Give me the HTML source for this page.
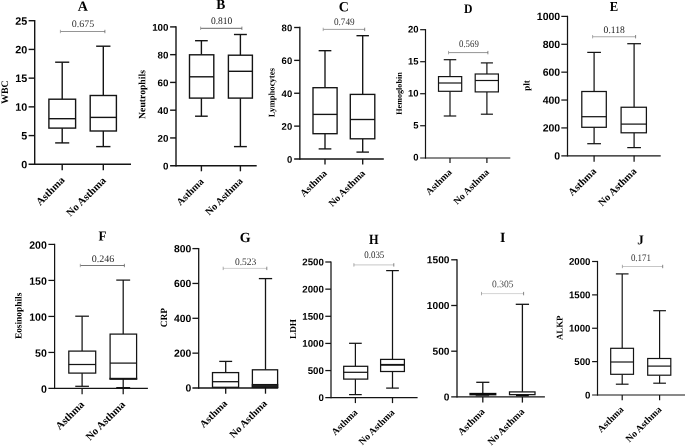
<!DOCTYPE html>
<html><head><meta charset="utf-8"><title>Figure</title>
<style>
html,body{margin:0;padding:0;background:#fff;}
svg{display:block;text-rendering:geometricPrecision;}

</style></head><body>
<svg width="685" height="448" viewBox="0 0 685 448">
<rect x="0" y="0" width="685" height="448" fill="#fff"/>
<g id="panelA">
<line x1="34.7" y1="20" x2="34.7" y2="165" stroke="#141414" stroke-width="1.4" stroke-linecap="butt"/>
<line x1="28.6" y1="164.3" x2="131" y2="164.3" stroke="#141414" stroke-width="1.4" stroke-linecap="butt"/>
<text transform="translate(27.2,168.26) rotate(0.03)" text-anchor="end" font-family="Liberation Sans, Arial, sans-serif" font-weight="bold" font-size="10.8">0</text>
<line x1="28.6" y1="135.58" x2="34.7" y2="135.58" stroke="#141414" stroke-width="1.4" stroke-linecap="butt"/>
<text transform="translate(27.2,139.54) rotate(0.03)" text-anchor="end" font-family="Liberation Sans, Arial, sans-serif" font-weight="bold" font-size="10.8">5</text>
<line x1="28.6" y1="106.86" x2="34.7" y2="106.86" stroke="#141414" stroke-width="1.4" stroke-linecap="butt"/>
<text transform="translate(27.2,110.82) rotate(0.03)" text-anchor="end" font-family="Liberation Sans, Arial, sans-serif" font-weight="bold" font-size="10.8">10</text>
<line x1="28.6" y1="78.14" x2="34.7" y2="78.14" stroke="#141414" stroke-width="1.4" stroke-linecap="butt"/>
<text transform="translate(27.2,82.1) rotate(0.03)" text-anchor="end" font-family="Liberation Sans, Arial, sans-serif" font-weight="bold" font-size="10.8">15</text>
<line x1="28.6" y1="49.42" x2="34.7" y2="49.42" stroke="#141414" stroke-width="1.4" stroke-linecap="butt"/>
<text transform="translate(27.2,53.38) rotate(0.03)" text-anchor="end" font-family="Liberation Sans, Arial, sans-serif" font-weight="bold" font-size="10.8">20</text>
<line x1="28.6" y1="20.7" x2="34.7" y2="20.7" stroke="#141414" stroke-width="1.4" stroke-linecap="butt"/>
<text transform="translate(27.2,24.66) rotate(0.03)" text-anchor="end" font-family="Liberation Sans, Arial, sans-serif" font-weight="bold" font-size="10.8">25</text>
<line x1="62.2" y1="164.3" x2="62.2" y2="170.3" stroke="#141414" stroke-width="1.4" stroke-linecap="butt"/>
<line x1="103.3" y1="164.3" x2="103.3" y2="170.3" stroke="#141414" stroke-width="1.4" stroke-linecap="butt"/>
<text transform="translate(82.7,10.7) rotate(0.03) scale(1,1)" text-anchor="middle" font-family="Liberation Serif, Times New Roman, serif" font-weight="bold" font-size="14">A</text>
<line x1="60.4" y1="31.5" x2="104.9" y2="31.5" stroke="#7a7a7a" stroke-width="0.8" stroke-linecap="butt"/>
<line x1="60.4" y1="29.8" x2="60.4" y2="33.2" stroke="#8a8a8a" stroke-width="0.7" stroke-linecap="butt"/>
<line x1="104.9" y1="29.8" x2="104.9" y2="33.2" stroke="#555" stroke-width="0.7" stroke-linecap="butt"/>
<text transform="translate(83.1,26.9) rotate(0.03) scale(1.0,1)" text-anchor="middle" font-family="Liberation Serif, Times New Roman, serif" font-size="10" fill="#333">0.675</text>
<line x1="62.2" y1="62.2" x2="62.2" y2="99.2" stroke="#141414" stroke-width="1.4" stroke-linecap="butt"/>
<line x1="55.15" y1="62.2" x2="69.25" y2="62.2" stroke="#141414" stroke-width="1.4" stroke-linecap="butt"/>
<line x1="62.2" y1="128.1" x2="62.2" y2="142.9" stroke="#141414" stroke-width="1.4" stroke-linecap="butt"/>
<line x1="55.15" y1="142.9" x2="69.25" y2="142.9" stroke="#141414" stroke-width="1.4" stroke-linecap="butt"/>
<rect x="48.9" y="99.2" width="26.7" height="28.9" fill="#fff" stroke="#141414" stroke-width="1.4"/>
<line x1="48.9" y1="118.7" x2="75.6" y2="118.7" stroke="#141414" stroke-width="1.4" stroke-linecap="butt"/>
<line x1="103.3" y1="46.2" x2="103.3" y2="95.5" stroke="#141414" stroke-width="1.4" stroke-linecap="butt"/>
<line x1="96.15" y1="46.2" x2="110.45" y2="46.2" stroke="#141414" stroke-width="1.4" stroke-linecap="butt"/>
<line x1="103.3" y1="131" x2="103.3" y2="146.6" stroke="#141414" stroke-width="1.4" stroke-linecap="butt"/>
<line x1="96.15" y1="146.6" x2="110.45" y2="146.6" stroke="#141414" stroke-width="1.4" stroke-linecap="butt"/>
<rect x="90.2" y="95.5" width="26.2" height="35.5" fill="#fff" stroke="#141414" stroke-width="1.4"/>
<line x1="90.2" y1="117.4" x2="116.4" y2="117.4" stroke="#141414" stroke-width="1.4" stroke-linecap="butt"/>
<text transform="translate(65.4,180.73) rotate(-45)" text-anchor="end" font-family="Liberation Serif, Times New Roman, serif" font-weight="bold" font-size="10.700000000000001">Asthma</text>
<text transform="translate(106.5,181.13) rotate(-45)" text-anchor="end" font-family="Liberation Serif, Times New Roman, serif" font-weight="bold" font-size="10.700000000000001">No Asthma</text>
<text transform="translate(7.9,92.1) rotate(-89.97)" text-anchor="middle" font-family="Liberation Serif, Times New Roman, serif" font-weight="bold" font-size="9.9">WBC</text>
</g>
<g id="panelB">
<line x1="176" y1="26.2" x2="176" y2="166.4" stroke="#141414" stroke-width="1.4" stroke-linecap="butt"/>
<line x1="170.1" y1="165.7" x2="256.7" y2="165.7" stroke="#141414" stroke-width="1.4" stroke-linecap="butt"/>
<text transform="translate(168.5,169.51) rotate(0.03)" text-anchor="end" font-family="Liberation Sans, Arial, sans-serif" font-weight="bold" font-size="9.8">0</text>
<line x1="170.1" y1="137.94" x2="176" y2="137.94" stroke="#141414" stroke-width="1.4" stroke-linecap="butt"/>
<text transform="translate(168.5,141.75) rotate(0.03)" text-anchor="end" font-family="Liberation Sans, Arial, sans-serif" font-weight="bold" font-size="9.8">20</text>
<line x1="170.1" y1="110.18" x2="176" y2="110.18" stroke="#141414" stroke-width="1.4" stroke-linecap="butt"/>
<text transform="translate(168.5,113.99) rotate(0.03)" text-anchor="end" font-family="Liberation Sans, Arial, sans-serif" font-weight="bold" font-size="9.8">40</text>
<line x1="170.1" y1="82.42" x2="176" y2="82.42" stroke="#141414" stroke-width="1.4" stroke-linecap="butt"/>
<text transform="translate(168.5,86.23) rotate(0.03)" text-anchor="end" font-family="Liberation Sans, Arial, sans-serif" font-weight="bold" font-size="9.8">60</text>
<line x1="170.1" y1="54.66" x2="176" y2="54.66" stroke="#141414" stroke-width="1.4" stroke-linecap="butt"/>
<text transform="translate(168.5,58.47) rotate(0.03)" text-anchor="end" font-family="Liberation Sans, Arial, sans-serif" font-weight="bold" font-size="9.8">80</text>
<line x1="170.1" y1="26.9" x2="176" y2="26.9" stroke="#141414" stroke-width="1.4" stroke-linecap="butt"/>
<text transform="translate(168.5,30.71) rotate(0.03)" text-anchor="end" font-family="Liberation Sans, Arial, sans-serif" font-weight="bold" font-size="9.8">100</text>
<line x1="201.4" y1="165.7" x2="201.4" y2="171.3" stroke="#141414" stroke-width="1.4" stroke-linecap="butt"/>
<line x1="240.4" y1="165.7" x2="240.4" y2="171.3" stroke="#141414" stroke-width="1.4" stroke-linecap="butt"/>
<text transform="translate(220.9,8.95) rotate(0.03) scale(0.97,1)" text-anchor="middle" font-family="Liberation Serif, Times New Roman, serif" font-weight="bold" font-size="14">B</text>
<line x1="200.6" y1="28.3" x2="241.9" y2="28.3" stroke="#555" stroke-width="0.9" stroke-linecap="butt"/>
<line x1="200.6" y1="26.6" x2="200.6" y2="30" stroke="#8a8a8a" stroke-width="0.7" stroke-linecap="butt"/>
<line x1="241.9" y1="26.6" x2="241.9" y2="30" stroke="#555" stroke-width="0.7" stroke-linecap="butt"/>
<text transform="translate(221.6,24.1) rotate(0.03) scale(0.95,1)" text-anchor="middle" font-family="Liberation Serif, Times New Roman, serif" font-size="10" fill="#222">0.810</text>
<line x1="201.4" y1="40.7" x2="201.4" y2="54.8" stroke="#141414" stroke-width="1.4" stroke-linecap="butt"/>
<line x1="195.05" y1="40.7" x2="207.75" y2="40.7" stroke="#141414" stroke-width="1.4" stroke-linecap="butt"/>
<line x1="201.4" y1="98.1" x2="201.4" y2="116.2" stroke="#141414" stroke-width="1.4" stroke-linecap="butt"/>
<line x1="195.05" y1="116.2" x2="207.75" y2="116.2" stroke="#141414" stroke-width="1.4" stroke-linecap="butt"/>
<rect x="189.5" y="54.8" width="24.3" height="43.3" fill="#fff" stroke="#141414" stroke-width="1.4"/>
<line x1="189.5" y1="76.8" x2="213.8" y2="76.8" stroke="#141414" stroke-width="1.4" stroke-linecap="butt"/>
<line x1="240.4" y1="34.5" x2="240.4" y2="55.2" stroke="#141414" stroke-width="1.4" stroke-linecap="butt"/>
<line x1="233.95" y1="34.5" x2="246.85" y2="34.5" stroke="#141414" stroke-width="1.4" stroke-linecap="butt"/>
<line x1="240.4" y1="98.1" x2="240.4" y2="146.6" stroke="#141414" stroke-width="1.4" stroke-linecap="butt"/>
<line x1="233.95" y1="146.6" x2="246.85" y2="146.6" stroke="#141414" stroke-width="1.4" stroke-linecap="butt"/>
<rect x="228.4" y="55.2" width="24" height="42.9" fill="#fff" stroke="#141414" stroke-width="1.4"/>
<line x1="228.4" y1="71.3" x2="252.4" y2="71.3" stroke="#141414" stroke-width="1.4" stroke-linecap="butt"/>
<text transform="translate(204.4,182.15) rotate(-45)" text-anchor="end" font-family="Liberation Serif, Times New Roman, serif" font-weight="bold" font-size="10.165000000000001">Asthma</text>
<text transform="translate(243.4,181.75) rotate(-45)" text-anchor="end" font-family="Liberation Serif, Times New Roman, serif" font-weight="bold" font-size="10.165000000000001">No Asthma</text>
<text transform="translate(145.3,94.5) rotate(-89.97)" text-anchor="middle" font-family="Liberation Serif, Times New Roman, serif" font-weight="bold" font-size="9.7">Neutrophils</text>
</g>
<g id="panelC">
<line x1="299.85" y1="26.82" x2="299.85" y2="159.68" stroke="#141414" stroke-width="1.35" stroke-linecap="butt"/>
<line x1="294.15" y1="159" x2="383.8" y2="159" stroke="#141414" stroke-width="1.35" stroke-linecap="butt"/>
<text transform="translate(292.2,162.71) rotate(0.03)" text-anchor="end" font-family="Liberation Sans, Arial, sans-serif" font-weight="bold" font-size="9.5">0</text>
<line x1="294.15" y1="126.12" x2="299.85" y2="126.12" stroke="#141414" stroke-width="1.35" stroke-linecap="butt"/>
<text transform="translate(292.2,129.83) rotate(0.03)" text-anchor="end" font-family="Liberation Sans, Arial, sans-serif" font-weight="bold" font-size="9.5">20</text>
<line x1="294.15" y1="93.25" x2="299.85" y2="93.25" stroke="#141414" stroke-width="1.35" stroke-linecap="butt"/>
<text transform="translate(292.2,96.96) rotate(0.03)" text-anchor="end" font-family="Liberation Sans, Arial, sans-serif" font-weight="bold" font-size="9.5">40</text>
<line x1="294.15" y1="60.38" x2="299.85" y2="60.38" stroke="#141414" stroke-width="1.35" stroke-linecap="butt"/>
<text transform="translate(292.2,64.08) rotate(0.03)" text-anchor="end" font-family="Liberation Sans, Arial, sans-serif" font-weight="bold" font-size="9.5">60</text>
<line x1="294.15" y1="27.5" x2="299.85" y2="27.5" stroke="#141414" stroke-width="1.35" stroke-linecap="butt"/>
<text transform="translate(292.2,31.21) rotate(0.03)" text-anchor="end" font-family="Liberation Sans, Arial, sans-serif" font-weight="bold" font-size="9.5">80</text>
<line x1="325" y1="159" x2="325" y2="164.5" stroke="#141414" stroke-width="1.35" stroke-linecap="butt"/>
<line x1="362.7" y1="159" x2="362.7" y2="164.5" stroke="#141414" stroke-width="1.35" stroke-linecap="butt"/>
<text transform="translate(343.8,11.15) rotate(0.03) scale(1,1)" text-anchor="middle" font-family="Liberation Serif, Times New Roman, serif" font-weight="bold" font-size="14">C</text>
<line x1="323.2" y1="29.4" x2="364.7" y2="29.4" stroke="#888" stroke-width="0.8" stroke-linecap="butt"/>
<line x1="323.2" y1="27.7" x2="323.2" y2="31.1" stroke="#8a8a8a" stroke-width="0.7" stroke-linecap="butt"/>
<line x1="364.7" y1="27.7" x2="364.7" y2="31.1" stroke="#555" stroke-width="0.7" stroke-linecap="butt"/>
<text transform="translate(344.3,24.9) rotate(0.03) scale(0.92,1)" text-anchor="middle" font-family="Liberation Serif, Times New Roman, serif" font-size="10" fill="#333">0.749</text>
<line x1="325" y1="50.7" x2="325" y2="87.7" stroke="#141414" stroke-width="1.35" stroke-linecap="butt"/>
<line x1="318.65" y1="50.7" x2="331.35" y2="50.7" stroke="#141414" stroke-width="1.35" stroke-linecap="butt"/>
<line x1="325" y1="133.7" x2="325" y2="148.9" stroke="#141414" stroke-width="1.35" stroke-linecap="butt"/>
<line x1="318.65" y1="148.9" x2="331.35" y2="148.9" stroke="#141414" stroke-width="1.35" stroke-linecap="butt"/>
<rect x="313" y="87.7" width="24.1" height="46" fill="#fff" stroke="#141414" stroke-width="1.35"/>
<line x1="313" y1="114.4" x2="337.1" y2="114.4" stroke="#141414" stroke-width="1.35" stroke-linecap="butt"/>
<line x1="362.7" y1="35.7" x2="362.7" y2="94.4" stroke="#141414" stroke-width="1.35" stroke-linecap="butt"/>
<line x1="356.45" y1="35.7" x2="368.95" y2="35.7" stroke="#141414" stroke-width="1.35" stroke-linecap="butt"/>
<line x1="362.7" y1="138.8" x2="362.7" y2="152.1" stroke="#141414" stroke-width="1.35" stroke-linecap="butt"/>
<line x1="356.45" y1="152.1" x2="368.95" y2="152.1" stroke="#141414" stroke-width="1.35" stroke-linecap="butt"/>
<rect x="350.3" y="94.4" width="24.5" height="44.4" fill="#fff" stroke="#141414" stroke-width="1.35"/>
<line x1="350.3" y1="119.5" x2="374.8" y2="119.5" stroke="#141414" stroke-width="1.35" stroke-linecap="butt"/>
<text transform="translate(327.5,173.88) rotate(-45)" text-anchor="end" font-family="Liberation Serif, Times New Roman, serif" font-weight="bold" font-size="9.951">Asthma</text>
<text transform="translate(365.8,173.88) rotate(-45)" text-anchor="end" font-family="Liberation Serif, Times New Roman, serif" font-weight="bold" font-size="9.951">No Asthma</text>
<text transform="translate(274.6,92.65) rotate(-89.97)" text-anchor="middle" font-family="Liberation Serif, Times New Roman, serif" font-weight="bold" font-size="8.7">Lymphocytes</text>
</g>
<g id="panelD">
<line x1="425.5" y1="29.1" x2="425.5" y2="158.6" stroke="#141414" stroke-width="1.2" stroke-linecap="butt"/>
<line x1="420.15" y1="158" x2="510.3" y2="158" stroke="#141414" stroke-width="1.2" stroke-linecap="butt"/>
<text transform="translate(418.65,160.56) rotate(0.03)" text-anchor="end" font-family="Liberation Sans, Arial, sans-serif" font-weight="bold" font-size="9.5">0</text>
<line x1="420.15" y1="125.74" x2="425.5" y2="125.74" stroke="#141414" stroke-width="1.2" stroke-linecap="butt"/>
<text transform="translate(418.65,128.54) rotate(0.03)" text-anchor="end" font-family="Liberation Sans, Arial, sans-serif" font-weight="bold" font-size="9.5">5</text>
<line x1="420.15" y1="93.72" x2="425.5" y2="93.72" stroke="#141414" stroke-width="1.2" stroke-linecap="butt"/>
<text transform="translate(418.65,96.53) rotate(0.03)" text-anchor="end" font-family="Liberation Sans, Arial, sans-serif" font-weight="bold" font-size="9.5">10</text>
<line x1="420.15" y1="61.71" x2="425.5" y2="61.71" stroke="#141414" stroke-width="1.2" stroke-linecap="butt"/>
<text transform="translate(418.65,64.52) rotate(0.03)" text-anchor="end" font-family="Liberation Sans, Arial, sans-serif" font-weight="bold" font-size="9.5">15</text>
<line x1="420.15" y1="29.7" x2="425.5" y2="29.7" stroke="#141414" stroke-width="1.2" stroke-linecap="butt"/>
<text transform="translate(418.65,32.51) rotate(0.03)" text-anchor="end" font-family="Liberation Sans, Arial, sans-serif" font-weight="bold" font-size="9.5">20</text>
<line x1="450" y1="158" x2="450" y2="163.1" stroke="#141414" stroke-width="1.2" stroke-linecap="butt"/>
<line x1="486.9" y1="158" x2="486.9" y2="163.1" stroke="#141414" stroke-width="1.2" stroke-linecap="butt"/>
<text transform="translate(468.2,12.9) rotate(0.03) scale(0.9,1)" text-anchor="middle" font-family="Liberation Serif, Times New Roman, serif" font-weight="bold" font-size="13">D</text>
<line x1="448.5" y1="52.6" x2="487.9" y2="52.6" stroke="#777" stroke-width="0.8" stroke-linecap="butt"/>
<line x1="448.5" y1="50.9" x2="448.5" y2="54.3" stroke="#8a8a8a" stroke-width="0.7" stroke-linecap="butt"/>
<line x1="487.9" y1="50.9" x2="487.9" y2="54.3" stroke="#555" stroke-width="0.7" stroke-linecap="butt"/>
<text transform="translate(468.9,47.1) rotate(0.03) scale(0.88,1)" text-anchor="middle" font-family="Liberation Serif, Times New Roman, serif" font-size="10" fill="#333">0.569</text>
<line x1="450" y1="59.7" x2="450" y2="76.6" stroke="#141414" stroke-width="1.2" stroke-linecap="butt"/>
<line x1="443.75" y1="59.7" x2="456.25" y2="59.7" stroke="#141414" stroke-width="1.2" stroke-linecap="butt"/>
<line x1="450" y1="91.3" x2="450" y2="116" stroke="#141414" stroke-width="1.2" stroke-linecap="butt"/>
<line x1="443.75" y1="116" x2="456.25" y2="116" stroke="#141414" stroke-width="1.2" stroke-linecap="butt"/>
<rect x="438.5" y="76.6" width="23.2" height="14.7" fill="#fff" stroke="#141414" stroke-width="1.2"/>
<line x1="438.5" y1="83" x2="461.7" y2="83" stroke="#141414" stroke-width="1.2" stroke-linecap="butt"/>
<line x1="486.9" y1="62.9" x2="486.9" y2="74" stroke="#141414" stroke-width="1.2" stroke-linecap="butt"/>
<line x1="480.85" y1="62.9" x2="492.95" y2="62.9" stroke="#141414" stroke-width="1.2" stroke-linecap="butt"/>
<line x1="486.9" y1="91.9" x2="486.9" y2="114.2" stroke="#141414" stroke-width="1.2" stroke-linecap="butt"/>
<line x1="480.85" y1="114.2" x2="492.95" y2="114.2" stroke="#141414" stroke-width="1.2" stroke-linecap="butt"/>
<rect x="475.2" y="74" width="23.2" height="17.9" fill="#fff" stroke="#141414" stroke-width="1.2"/>
<line x1="475.2" y1="80.5" x2="498.4" y2="80.5" stroke="#141414" stroke-width="1.2" stroke-linecap="butt"/>
<text transform="translate(452.3,172.78) rotate(-45)" text-anchor="end" font-family="Liberation Serif, Times New Roman, serif" font-weight="bold" font-size="9.63">Asthma</text>
<text transform="translate(489.7,172.78) rotate(-45)" text-anchor="end" font-family="Liberation Serif, Times New Roman, serif" font-weight="bold" font-size="9.63">No Asthma</text>
<text transform="translate(401.7,93.5) rotate(-89.97)" text-anchor="middle" font-family="Liberation Serif, Times New Roman, serif" font-weight="bold" font-size="8.15">Hemoglobin</text>
</g>
<g id="panelE">
<line x1="567.5" y1="15.77" x2="567.5" y2="156.43" stroke="#141414" stroke-width="1.25" stroke-linecap="butt"/>
<line x1="561.3" y1="155.8" x2="660.7" y2="155.8" stroke="#141414" stroke-width="1.25" stroke-linecap="butt"/>
<text transform="translate(560.2,159.45) rotate(0.03)" text-anchor="end" font-family="Liberation Sans, Arial, sans-serif" font-weight="bold" font-size="10.5">0</text>
<line x1="561.3" y1="127.92" x2="567.5" y2="127.92" stroke="#141414" stroke-width="1.25" stroke-linecap="butt"/>
<text transform="translate(560.2,131.57) rotate(0.03)" text-anchor="end" font-family="Liberation Sans, Arial, sans-serif" font-weight="bold" font-size="10.5">200</text>
<line x1="561.3" y1="100.04" x2="567.5" y2="100.04" stroke="#141414" stroke-width="1.25" stroke-linecap="butt"/>
<text transform="translate(560.2,103.69) rotate(0.03)" text-anchor="end" font-family="Liberation Sans, Arial, sans-serif" font-weight="bold" font-size="10.5">400</text>
<line x1="561.3" y1="72.16" x2="567.5" y2="72.16" stroke="#141414" stroke-width="1.25" stroke-linecap="butt"/>
<text transform="translate(560.2,75.81) rotate(0.03)" text-anchor="end" font-family="Liberation Sans, Arial, sans-serif" font-weight="bold" font-size="10.5">600</text>
<line x1="561.3" y1="44.28" x2="567.5" y2="44.28" stroke="#141414" stroke-width="1.25" stroke-linecap="butt"/>
<text transform="translate(560.2,47.93) rotate(0.03)" text-anchor="end" font-family="Liberation Sans, Arial, sans-serif" font-weight="bold" font-size="10.5">800</text>
<line x1="561.3" y1="16.4" x2="567.5" y2="16.4" stroke="#141414" stroke-width="1.25" stroke-linecap="butt"/>
<text transform="translate(560.2,20.05) rotate(0.03)" text-anchor="end" font-family="Liberation Sans, Arial, sans-serif" font-weight="bold" font-size="10.5">1000</text>
<line x1="594.1" y1="155.8" x2="594.1" y2="161.8" stroke="#141414" stroke-width="1.25" stroke-linecap="butt"/>
<line x1="634.1" y1="155.8" x2="634.1" y2="161.8" stroke="#141414" stroke-width="1.25" stroke-linecap="butt"/>
<text transform="translate(613.95,10.95) rotate(0.03) scale(0.93,1)" text-anchor="middle" font-family="Liberation Serif, Times New Roman, serif" font-weight="bold" font-size="13.6">E</text>
<line x1="592.6" y1="36.7" x2="635.6" y2="36.7" stroke="#a8a8a8" stroke-width="1.1" stroke-linecap="butt"/>
<line x1="592.6" y1="35" x2="592.6" y2="38.4" stroke="#8a8a8a" stroke-width="0.7" stroke-linecap="butt"/>
<line x1="635.6" y1="35" x2="635.6" y2="38.4" stroke="#555" stroke-width="0.7" stroke-linecap="butt"/>
<text transform="translate(614.2,33.1) rotate(0.03) scale(0.96,1)" text-anchor="middle" font-family="Liberation Serif, Times New Roman, serif" font-size="10" fill="#222">0.118</text>
<line x1="594.1" y1="52.4" x2="594.1" y2="91.5" stroke="#141414" stroke-width="1.25" stroke-linecap="butt"/>
<line x1="587.25" y1="52.4" x2="600.95" y2="52.4" stroke="#141414" stroke-width="1.25" stroke-linecap="butt"/>
<line x1="594.1" y1="127.3" x2="594.1" y2="143.7" stroke="#141414" stroke-width="1.25" stroke-linecap="butt"/>
<line x1="587.25" y1="143.7" x2="600.95" y2="143.7" stroke="#141414" stroke-width="1.25" stroke-linecap="butt"/>
<rect x="581.8" y="91.5" width="24.5" height="35.8" fill="#fff" stroke="#141414" stroke-width="1.25"/>
<line x1="581.8" y1="116.7" x2="606.3" y2="116.7" stroke="#141414" stroke-width="1.25" stroke-linecap="butt"/>
<line x1="634.1" y1="43.7" x2="634.1" y2="107.25" stroke="#141414" stroke-width="1.25" stroke-linecap="butt"/>
<line x1="627.25" y1="43.7" x2="640.95" y2="43.7" stroke="#141414" stroke-width="1.25" stroke-linecap="butt"/>
<line x1="634.1" y1="132.8" x2="634.1" y2="147.6" stroke="#141414" stroke-width="1.25" stroke-linecap="butt"/>
<line x1="627.25" y1="147.6" x2="640.95" y2="147.6" stroke="#141414" stroke-width="1.25" stroke-linecap="butt"/>
<rect x="621.1" y="107.25" width="25.3" height="25.55" fill="#fff" stroke="#141414" stroke-width="1.25"/>
<line x1="621.1" y1="124.1" x2="646.4" y2="124.1" stroke="#141414" stroke-width="1.25" stroke-linecap="butt"/>
<text transform="translate(596.8,171.93) rotate(-45)" text-anchor="end" font-family="Liberation Serif, Times New Roman, serif" font-weight="bold" font-size="10.379">Asthma</text>
<text transform="translate(637.1,171.93) rotate(-45)" text-anchor="end" font-family="Liberation Serif, Times New Roman, serif" font-weight="bold" font-size="10.379">No Asthma</text>
<text transform="translate(529.6,85.6) rotate(-89.97)" text-anchor="middle" font-family="Liberation Serif, Times New Roman, serif" font-weight="bold" font-size="9.0">plt</text>
</g>
<g id="panelF">
<line x1="54.6" y1="243.78" x2="54.6" y2="389.07" stroke="#141414" stroke-width="1.25" stroke-linecap="butt"/>
<line x1="48.4" y1="388.45" x2="147.9" y2="388.45" stroke="#141414" stroke-width="1.25" stroke-linecap="butt"/>
<text transform="translate(46.9,392.84) rotate(0.03)" text-anchor="end" font-family="Liberation Sans, Arial, sans-serif" font-weight="bold" font-size="10.6">0</text>
<line x1="48.4" y1="352.44" x2="54.6" y2="352.44" stroke="#141414" stroke-width="1.25" stroke-linecap="butt"/>
<text transform="translate(46.9,356.83) rotate(0.03)" text-anchor="end" font-family="Liberation Sans, Arial, sans-serif" font-weight="bold" font-size="10.6">50</text>
<line x1="48.4" y1="316.43" x2="54.6" y2="316.43" stroke="#141414" stroke-width="1.25" stroke-linecap="butt"/>
<text transform="translate(46.9,320.81) rotate(0.03)" text-anchor="end" font-family="Liberation Sans, Arial, sans-serif" font-weight="bold" font-size="10.6">100</text>
<line x1="48.4" y1="280.41" x2="54.6" y2="280.41" stroke="#141414" stroke-width="1.25" stroke-linecap="butt"/>
<text transform="translate(46.9,284.8) rotate(0.03)" text-anchor="end" font-family="Liberation Sans, Arial, sans-serif" font-weight="bold" font-size="10.6">150</text>
<line x1="48.4" y1="244.4" x2="54.6" y2="244.4" stroke="#141414" stroke-width="1.25" stroke-linecap="butt"/>
<text transform="translate(46.9,248.79) rotate(0.03)" text-anchor="end" font-family="Liberation Sans, Arial, sans-serif" font-weight="bold" font-size="10.6">200</text>
<line x1="82.1" y1="388.45" x2="82.1" y2="394.3" stroke="#141414" stroke-width="1.25" stroke-linecap="butt"/>
<line x1="123.2" y1="388.45" x2="123.2" y2="394.3" stroke="#141414" stroke-width="1.25" stroke-linecap="butt"/>
<text transform="translate(102.6,240.4) rotate(0.03) scale(0.95,1)" text-anchor="middle" font-family="Liberation Serif, Times New Roman, serif" font-weight="bold" font-size="13.8">F</text>
<line x1="80.3" y1="265.5" x2="124.4" y2="265.5" stroke="#666" stroke-width="0.9" stroke-linecap="butt"/>
<line x1="80.3" y1="263.8" x2="80.3" y2="267.2" stroke="#8a8a8a" stroke-width="0.7" stroke-linecap="butt"/>
<line x1="124.4" y1="263.8" x2="124.4" y2="267.2" stroke="#555" stroke-width="0.7" stroke-linecap="butt"/>
<text transform="translate(103.1,261.9) rotate(0.03) scale(1.0,1)" text-anchor="middle" font-family="Liberation Serif, Times New Roman, serif" font-size="10" fill="#2a2a2a">0.246</text>
<line x1="82.1" y1="316.2" x2="82.1" y2="351.1" stroke="#141414" stroke-width="1.25" stroke-linecap="butt"/>
<line x1="75.25" y1="316.2" x2="88.95" y2="316.2" stroke="#141414" stroke-width="1.25" stroke-linecap="butt"/>
<line x1="82.1" y1="373.1" x2="82.1" y2="386.3" stroke="#141414" stroke-width="1.25" stroke-linecap="butt"/>
<line x1="75.25" y1="386.3" x2="88.95" y2="386.3" stroke="#141414" stroke-width="1.25" stroke-linecap="butt"/>
<rect x="68.8" y="351.1" width="26.9" height="22" fill="#fff" stroke="#141414" stroke-width="1.25"/>
<line x1="68.8" y1="364.5" x2="95.7" y2="364.5" stroke="#141414" stroke-width="1.25" stroke-linecap="butt"/>
<line x1="123.2" y1="280.1" x2="123.2" y2="334.1" stroke="#141414" stroke-width="1.25" stroke-linecap="butt"/>
<line x1="116.25" y1="280.1" x2="130.15" y2="280.1" stroke="#141414" stroke-width="1.25" stroke-linecap="butt"/>
<line x1="123.2" y1="379" x2="123.2" y2="387.6" stroke="#141414" stroke-width="1.25" stroke-linecap="butt"/>
<line x1="116.25" y1="387.6" x2="130.15" y2="387.6" stroke="#141414" stroke-width="1.25" stroke-linecap="butt"/>
<rect x="110.1" y="334.1" width="26.5" height="44.9" fill="#fff" stroke="#141414" stroke-width="1.25"/>
<line x1="109.47" y1="378.75" x2="137.22" y2="378.75" stroke="#141414" stroke-width="1.9" stroke-linecap="butt"/>
<line x1="110.1" y1="363.1" x2="136.6" y2="363.1" stroke="#141414" stroke-width="1.25" stroke-linecap="butt"/>
<text transform="translate(84.9,405.13) rotate(-45)" text-anchor="end" font-family="Liberation Serif, Times New Roman, serif" font-weight="bold" font-size="10.700000000000001">Asthma</text>
<text transform="translate(125.8,405.13) rotate(-45)" text-anchor="end" font-family="Liberation Serif, Times New Roman, serif" font-weight="bold" font-size="10.700000000000001">No Asthma</text>
<text transform="translate(21.6,315.9) rotate(-89.97)" text-anchor="middle" font-family="Liberation Serif, Times New Roman, serif" font-weight="bold" font-size="9.4">Eosinophils</text>
</g>
<g id="panelG">
<line x1="198.7" y1="247.95" x2="198.7" y2="388.65" stroke="#141414" stroke-width="1.3" stroke-linecap="butt"/>
<line x1="192.4" y1="388" x2="278.2" y2="388" stroke="#141414" stroke-width="1.3" stroke-linecap="butt"/>
<text transform="translate(191.3,391.62) rotate(0.03)" text-anchor="end" font-family="Liberation Sans, Arial, sans-serif" font-weight="bold" font-size="10.4">0</text>
<line x1="192.4" y1="353.15" x2="198.7" y2="353.15" stroke="#141414" stroke-width="1.3" stroke-linecap="butt"/>
<text transform="translate(191.3,356.77) rotate(0.03)" text-anchor="end" font-family="Liberation Sans, Arial, sans-serif" font-weight="bold" font-size="10.4">200</text>
<line x1="192.4" y1="318.3" x2="198.7" y2="318.3" stroke="#141414" stroke-width="1.3" stroke-linecap="butt"/>
<text transform="translate(191.3,321.92) rotate(0.03)" text-anchor="end" font-family="Liberation Sans, Arial, sans-serif" font-weight="bold" font-size="10.4">400</text>
<line x1="192.4" y1="283.45" x2="198.7" y2="283.45" stroke="#141414" stroke-width="1.3" stroke-linecap="butt"/>
<text transform="translate(191.3,287.07) rotate(0.03)" text-anchor="end" font-family="Liberation Sans, Arial, sans-serif" font-weight="bold" font-size="10.4">600</text>
<line x1="192.4" y1="248.6" x2="198.7" y2="248.6" stroke="#141414" stroke-width="1.3" stroke-linecap="butt"/>
<text transform="translate(191.3,252.22) rotate(0.03)" text-anchor="end" font-family="Liberation Sans, Arial, sans-serif" font-weight="bold" font-size="10.4">800</text>
<line x1="225.7" y1="388" x2="225.7" y2="393.7" stroke="#141414" stroke-width="1.3" stroke-linecap="butt"/>
<line x1="265.5" y1="388" x2="265.5" y2="393.7" stroke="#141414" stroke-width="1.3" stroke-linecap="butt"/>
<text transform="translate(245.2,242.1) rotate(0.03) scale(1,1)" text-anchor="middle" font-family="Liberation Serif, Times New Roman, serif" font-weight="bold" font-size="14">G</text>
<line x1="223.2" y1="268.4" x2="266.8" y2="268.4" stroke="#c4c4c4" stroke-width="0.8" stroke-linecap="butt"/>
<line x1="223.2" y1="266.7" x2="223.2" y2="270.1" stroke="#8a8a8a" stroke-width="0.7" stroke-linecap="butt"/>
<line x1="266.8" y1="266.7" x2="266.8" y2="270.1" stroke="#555" stroke-width="0.7" stroke-linecap="butt"/>
<text transform="translate(245.6,264.9) rotate(0.03) scale(0.95,1)" text-anchor="middle" font-family="Liberation Serif, Times New Roman, serif" font-size="10" fill="#333">0.523</text>
<line x1="225.7" y1="361.4" x2="225.7" y2="372.6" stroke="#141414" stroke-width="1.3" stroke-linecap="butt"/>
<line x1="219.25" y1="361.4" x2="232.15" y2="361.4" stroke="#141414" stroke-width="1.3" stroke-linecap="butt"/>
<rect x="212.5" y="372.6" width="26.1" height="14.7" fill="#fff" stroke="#141414" stroke-width="1.3"/>
<line x1="212.5" y1="381.7" x2="238.6" y2="381.7" stroke="#141414" stroke-width="1.3" stroke-linecap="butt"/>
<line x1="265.5" y1="278.6" x2="265.5" y2="369.8" stroke="#141414" stroke-width="1.3" stroke-linecap="butt"/>
<line x1="258.85" y1="278.6" x2="272.15" y2="278.6" stroke="#141414" stroke-width="1.3" stroke-linecap="butt"/>
<rect x="252.4" y="369.8" width="25.2" height="17.5" fill="#fff" stroke="#141414" stroke-width="1.3"/>
<rect x="252.4" y="384.6" width="25.2" height="2.7" fill="#262626" stroke="#141414" stroke-width="1.3"/>
<text transform="translate(227.9,404.17) rotate(-45)" text-anchor="end" font-family="Liberation Serif, Times New Roman, serif" font-weight="bold" font-size="10.2185">Asthma</text>
<text transform="translate(267.7,404.17) rotate(-45)" text-anchor="end" font-family="Liberation Serif, Times New Roman, serif" font-weight="bold" font-size="10.2185">No Asthma</text>
<text transform="translate(167,317.6) rotate(-89.97)" text-anchor="middle" font-family="Liberation Serif, Times New Roman, serif" font-weight="bold" font-size="9.5">CRP</text>
</g>
<g id="panelH">
<line x1="331" y1="261.38" x2="331" y2="398.32" stroke="#141414" stroke-width="1.25" stroke-linecap="butt"/>
<line x1="325.3" y1="397.7" x2="417.6" y2="397.7" stroke="#141414" stroke-width="1.25" stroke-linecap="butt"/>
<text transform="translate(323.9,401.08) rotate(0.03)" text-anchor="end" font-family="Liberation Sans, Arial, sans-serif" font-weight="bold" font-size="9.7">0</text>
<line x1="325.3" y1="370.56" x2="331" y2="370.56" stroke="#141414" stroke-width="1.25" stroke-linecap="butt"/>
<text transform="translate(323.9,373.94) rotate(0.03)" text-anchor="end" font-family="Liberation Sans, Arial, sans-serif" font-weight="bold" font-size="9.7">500</text>
<line x1="325.3" y1="343.42" x2="331" y2="343.42" stroke="#141414" stroke-width="1.25" stroke-linecap="butt"/>
<text transform="translate(323.9,346.8) rotate(0.03)" text-anchor="end" font-family="Liberation Sans, Arial, sans-serif" font-weight="bold" font-size="9.7">1000</text>
<line x1="325.3" y1="316.28" x2="331" y2="316.28" stroke="#141414" stroke-width="1.25" stroke-linecap="butt"/>
<text transform="translate(323.9,319.66) rotate(0.03)" text-anchor="end" font-family="Liberation Sans, Arial, sans-serif" font-weight="bold" font-size="9.7">1500</text>
<line x1="325.3" y1="289.14" x2="331" y2="289.14" stroke="#141414" stroke-width="1.25" stroke-linecap="butt"/>
<text transform="translate(323.9,292.52) rotate(0.03)" text-anchor="end" font-family="Liberation Sans, Arial, sans-serif" font-weight="bold" font-size="9.7">2000</text>
<line x1="325.3" y1="262" x2="331" y2="262" stroke="#141414" stroke-width="1.25" stroke-linecap="butt"/>
<text transform="translate(323.9,265.38) rotate(0.03)" text-anchor="end" font-family="Liberation Sans, Arial, sans-serif" font-weight="bold" font-size="9.7">2500</text>
<line x1="355.4" y1="397.7" x2="355.4" y2="403.1" stroke="#141414" stroke-width="1.25" stroke-linecap="butt"/>
<line x1="392.5" y1="397.7" x2="392.5" y2="403.1" stroke="#141414" stroke-width="1.25" stroke-linecap="butt"/>
<text transform="translate(373.7,244.5) rotate(0.03) scale(0.88,1)" text-anchor="middle" font-family="Liberation Serif, Times New Roman, serif" font-weight="bold" font-size="14">H</text>
<line x1="353.9" y1="264.9" x2="393.8" y2="264.9" stroke="#d2d2d2" stroke-width="1.1" stroke-linecap="butt"/>
<line x1="353.9" y1="263.2" x2="353.9" y2="266.6" stroke="#8a8a8a" stroke-width="0.7" stroke-linecap="butt"/>
<line x1="393.8" y1="263.2" x2="393.8" y2="266.6" stroke="#555" stroke-width="0.7" stroke-linecap="butt"/>
<text transform="translate(374.3,258) rotate(0.03) scale(0.89,1)" text-anchor="middle" font-family="Liberation Serif, Times New Roman, serif" font-size="10" fill="#2a2a2a">0.035</text>
<line x1="355.4" y1="343.3" x2="355.4" y2="366.3" stroke="#141414" stroke-width="1.25" stroke-linecap="butt"/>
<line x1="349.05" y1="343.3" x2="361.75" y2="343.3" stroke="#141414" stroke-width="1.25" stroke-linecap="butt"/>
<line x1="355.4" y1="379.1" x2="355.4" y2="394.6" stroke="#141414" stroke-width="1.25" stroke-linecap="butt"/>
<line x1="349.05" y1="394.6" x2="361.75" y2="394.6" stroke="#141414" stroke-width="1.25" stroke-linecap="butt"/>
<rect x="343.7" y="366.3" width="24" height="12.8" fill="#fff" stroke="#141414" stroke-width="1.25"/>
<line x1="343.7" y1="372.3" x2="367.7" y2="372.3" stroke="#141414" stroke-width="1.25" stroke-linecap="butt"/>
<line x1="392.5" y1="270.6" x2="392.5" y2="359.4" stroke="#141414" stroke-width="1.25" stroke-linecap="butt"/>
<line x1="386.15" y1="270.6" x2="398.85" y2="270.6" stroke="#141414" stroke-width="1.25" stroke-linecap="butt"/>
<line x1="392.5" y1="371.5" x2="392.5" y2="388.1" stroke="#141414" stroke-width="1.25" stroke-linecap="butt"/>
<line x1="386.15" y1="388.1" x2="398.85" y2="388.1" stroke="#141414" stroke-width="1.25" stroke-linecap="butt"/>
<rect x="380.6" y="359.4" width="23.8" height="12.1" fill="#fff" stroke="#141414" stroke-width="1.25"/>
<line x1="380.6" y1="364.85" x2="404.4" y2="364.85" stroke="#141414" stroke-width="1.9" stroke-linecap="butt"/>
<text transform="translate(358.1,413) rotate(-45)" text-anchor="end" font-family="Liberation Serif, Times New Roman, serif" font-weight="bold" font-size="9.6835">Asthma</text>
<text transform="translate(395.1,413) rotate(-45)" text-anchor="end" font-family="Liberation Serif, Times New Roman, serif" font-weight="bold" font-size="9.6835">No Asthma</text>
<text transform="translate(296,329.05) rotate(-89.97)" text-anchor="middle" font-family="Liberation Serif, Times New Roman, serif" font-weight="bold" font-size="9.1">LDH</text>
</g>
<g id="panelI">
<line x1="457" y1="259.15" x2="457" y2="397.55" stroke="#141414" stroke-width="1.3" stroke-linecap="butt"/>
<line x1="451.2" y1="396.9" x2="544.9" y2="396.9" stroke="#141414" stroke-width="1.3" stroke-linecap="butt"/>
<text transform="translate(449.5,400.45) rotate(0.03)" text-anchor="end" font-family="Liberation Sans, Arial, sans-serif" font-weight="bold" font-size="10.2">0</text>
<line x1="451.2" y1="351.2" x2="457" y2="351.2" stroke="#141414" stroke-width="1.3" stroke-linecap="butt"/>
<text transform="translate(449.5,354.75) rotate(0.03)" text-anchor="end" font-family="Liberation Sans, Arial, sans-serif" font-weight="bold" font-size="10.2">500</text>
<line x1="451.2" y1="305.5" x2="457" y2="305.5" stroke="#141414" stroke-width="1.3" stroke-linecap="butt"/>
<text transform="translate(449.5,309.05) rotate(0.03)" text-anchor="end" font-family="Liberation Sans, Arial, sans-serif" font-weight="bold" font-size="10.2">1000</text>
<line x1="451.2" y1="259.8" x2="457" y2="259.8" stroke="#141414" stroke-width="1.3" stroke-linecap="butt"/>
<text transform="translate(449.5,263.35) rotate(0.03)" text-anchor="end" font-family="Liberation Sans, Arial, sans-serif" font-weight="bold" font-size="10.2">1500</text>
<line x1="482.8" y1="396.9" x2="482.8" y2="402.6" stroke="#141414" stroke-width="1.3" stroke-linecap="butt"/>
<line x1="522.4" y1="396.9" x2="522.4" y2="402.6" stroke="#141414" stroke-width="1.3" stroke-linecap="butt"/>
<text transform="translate(502.7,241.9) rotate(0.03) scale(1,1)" text-anchor="middle" font-family="Liberation Serif, Times New Roman, serif" font-weight="bold" font-size="14">I</text>
<line x1="481.5" y1="293.6" x2="523.6" y2="293.6" stroke="#c8c8c8" stroke-width="0.8" stroke-linecap="butt"/>
<line x1="481.5" y1="291.9" x2="481.5" y2="295.3" stroke="#8a8a8a" stroke-width="0.7" stroke-linecap="butt"/>
<line x1="523.6" y1="291.9" x2="523.6" y2="295.3" stroke="#555" stroke-width="0.7" stroke-linecap="butt"/>
<text transform="translate(502.7,287.3) rotate(0.03) scale(0.95,1)" text-anchor="middle" font-family="Liberation Serif, Times New Roman, serif" font-size="10" fill="#4a4a4a">0.305</text>
<line x1="482.8" y1="382.3" x2="482.8" y2="393.2" stroke="#141414" stroke-width="1.3" stroke-linecap="butt"/>
<line x1="476.25" y1="382.3" x2="489.35" y2="382.3" stroke="#141414" stroke-width="1.3" stroke-linecap="butt"/>
<rect x="469.4" y="392.85" width="27" height="2.55" fill="#0a0a0a"/><rect x="475.7" y="395.3" width="13.4" height="1" fill="#0a0a0a"/>
<line x1="522.4" y1="304.3" x2="522.4" y2="391.9" stroke="#141414" stroke-width="1.3" stroke-linecap="butt"/>
<line x1="515.75" y1="304.3" x2="529.05" y2="304.3" stroke="#141414" stroke-width="1.3" stroke-linecap="butt"/>
<rect x="509.5" y="391.9" width="25.5" height="2.75" fill="#fff" stroke="#141414" stroke-width="1.25"/><rect x="516" y="394.9" width="12.8" height="1.4" fill="#0a0a0a"/>
<text transform="translate(485.3,412.28) rotate(-45)" text-anchor="end" font-family="Liberation Serif, Times New Roman, serif" font-weight="bold" font-size="9.951">Asthma</text>
<text transform="translate(524.9,412.28) rotate(-45)" text-anchor="end" font-family="Liberation Serif, Times New Roman, serif" font-weight="bold" font-size="9.951">No Asthma</text>
</g>
<g id="panelJ">
<line x1="597.5" y1="260.9" x2="597.5" y2="395.6" stroke="#141414" stroke-width="1.2" stroke-linecap="butt"/>
<line x1="592.1" y1="395" x2="686" y2="395" stroke="#141414" stroke-width="1.2" stroke-linecap="butt"/>
<text transform="translate(590.5,398.38) rotate(0.03)" text-anchor="end" font-family="Liberation Sans, Arial, sans-serif" font-weight="bold" font-size="9.7">0</text>
<line x1="592.1" y1="361.62" x2="597.5" y2="361.62" stroke="#141414" stroke-width="1.2" stroke-linecap="butt"/>
<text transform="translate(590.5,365) rotate(0.03)" text-anchor="end" font-family="Liberation Sans, Arial, sans-serif" font-weight="bold" font-size="9.7">500</text>
<line x1="592.1" y1="328.25" x2="597.5" y2="328.25" stroke="#141414" stroke-width="1.2" stroke-linecap="butt"/>
<text transform="translate(590.5,331.63) rotate(0.03)" text-anchor="end" font-family="Liberation Sans, Arial, sans-serif" font-weight="bold" font-size="9.7">1000</text>
<line x1="592.1" y1="294.88" x2="597.5" y2="294.88" stroke="#141414" stroke-width="1.2" stroke-linecap="butt"/>
<text transform="translate(590.5,298.25) rotate(0.03)" text-anchor="end" font-family="Liberation Sans, Arial, sans-serif" font-weight="bold" font-size="9.7">1500</text>
<line x1="592.1" y1="261.5" x2="597.5" y2="261.5" stroke="#141414" stroke-width="1.2" stroke-linecap="butt"/>
<text transform="translate(590.5,264.88) rotate(0.03)" text-anchor="end" font-family="Liberation Sans, Arial, sans-serif" font-weight="bold" font-size="9.7">2000</text>
<line x1="622.2" y1="395" x2="622.2" y2="400.2" stroke="#141414" stroke-width="1.2" stroke-linecap="butt"/>
<line x1="659.6" y1="395" x2="659.6" y2="400.2" stroke="#141414" stroke-width="1.2" stroke-linecap="butt"/>
<text transform="translate(640.4,244.2) rotate(0.03) scale(0.97,1)" text-anchor="middle" font-family="Liberation Serif, Times New Roman, serif" font-weight="bold" font-size="13.4">J</text>
<line x1="622.4" y1="266.5" x2="662.7" y2="266.5" stroke="#b8b8b8" stroke-width="0.8" stroke-linecap="butt"/>
<line x1="622.4" y1="264.8" x2="622.4" y2="268.2" stroke="#8a8a8a" stroke-width="0.7" stroke-linecap="butt"/>
<line x1="662.7" y1="264.8" x2="662.7" y2="268.2" stroke="#555" stroke-width="0.7" stroke-linecap="butt"/>
<text transform="translate(640.9,261.4) rotate(0.03) scale(0.89,1)" text-anchor="middle" font-family="Liberation Serif, Times New Roman, serif" font-size="10" fill="#333">0.171</text>
<line x1="622.2" y1="273.9" x2="622.2" y2="348.3" stroke="#141414" stroke-width="1.2" stroke-linecap="butt"/>
<line x1="615.85" y1="273.9" x2="628.55" y2="273.9" stroke="#141414" stroke-width="1.2" stroke-linecap="butt"/>
<line x1="622.2" y1="374.3" x2="622.2" y2="384.2" stroke="#141414" stroke-width="1.2" stroke-linecap="butt"/>
<line x1="615.85" y1="384.2" x2="628.55" y2="384.2" stroke="#141414" stroke-width="1.2" stroke-linecap="butt"/>
<rect x="610.7" y="348.3" width="22.8" height="26" fill="#fff" stroke="#141414" stroke-width="1.2"/>
<line x1="610.7" y1="362" x2="633.5" y2="362" stroke="#141414" stroke-width="1.2" stroke-linecap="butt"/>
<line x1="659.6" y1="310.7" x2="659.6" y2="358.5" stroke="#141414" stroke-width="1.2" stroke-linecap="butt"/>
<line x1="653.25" y1="310.7" x2="665.95" y2="310.7" stroke="#141414" stroke-width="1.2" stroke-linecap="butt"/>
<line x1="659.6" y1="375.2" x2="659.6" y2="383.2" stroke="#141414" stroke-width="1.2" stroke-linecap="butt"/>
<line x1="653.25" y1="383.2" x2="665.95" y2="383.2" stroke="#141414" stroke-width="1.2" stroke-linecap="butt"/>
<rect x="647.7" y="358.5" width="23.1" height="16.7" fill="#fff" stroke="#141414" stroke-width="1.2"/>
<line x1="647.7" y1="366.1" x2="670.8" y2="366.1" stroke="#141414" stroke-width="1.2" stroke-linecap="butt"/>
<text transform="translate(624.2,410.11) rotate(-45)" text-anchor="end" font-family="Liberation Serif, Times New Roman, serif" font-weight="bold" font-size="9.737">Asthma</text>
<text transform="translate(662.1,410.11) rotate(-45)" text-anchor="end" font-family="Liberation Serif, Times New Roman, serif" font-weight="bold" font-size="9.737">No Asthma</text>
<text transform="translate(562.5,327.8) rotate(-89.97)" text-anchor="middle" font-family="Liberation Serif, Times New Roman, serif" font-weight="bold" font-size="8.8">ALKP</text>
</g>
</svg>
</body></html>
